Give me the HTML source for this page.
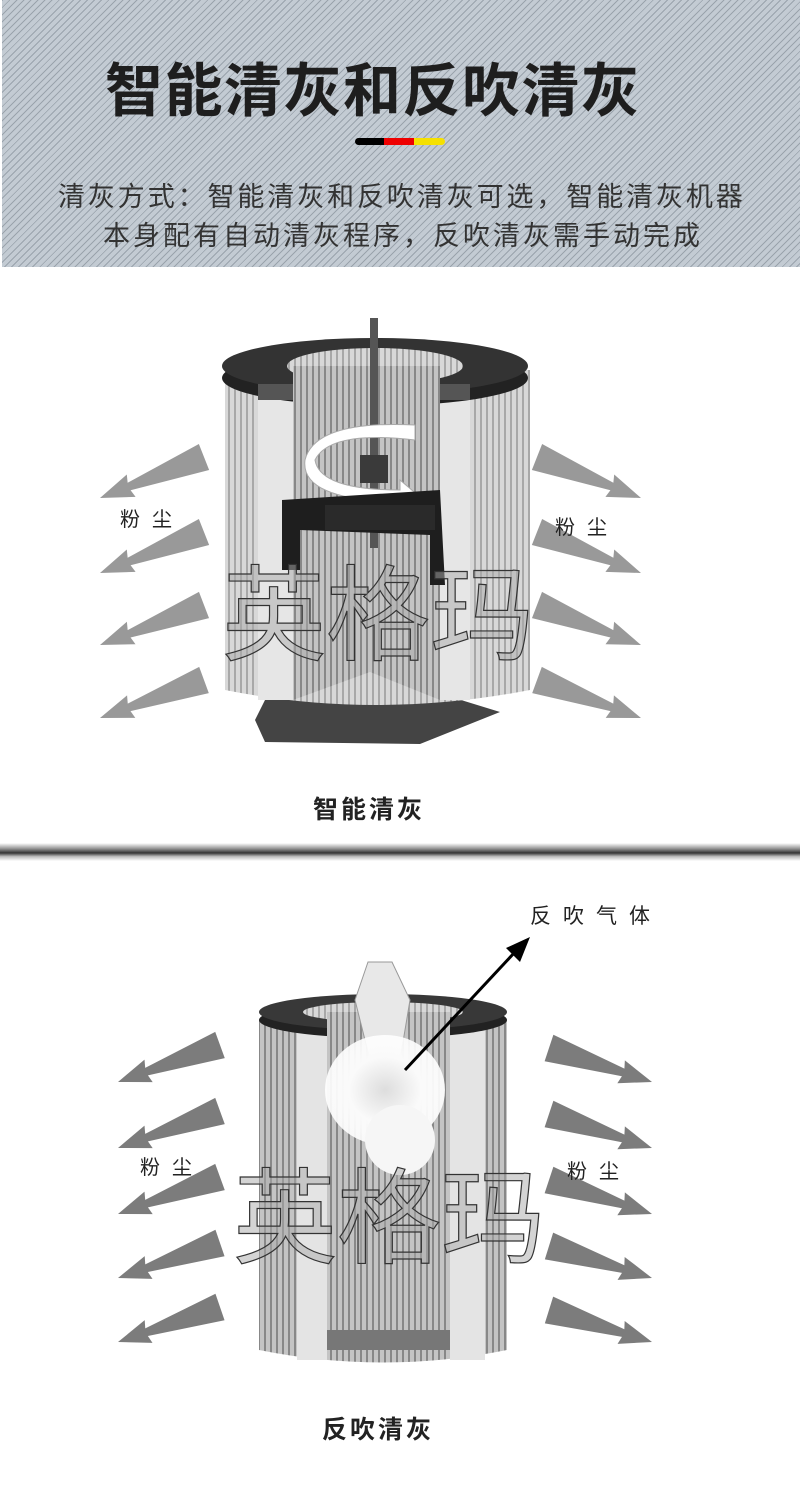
<!DOCTYPE html>
<html><head><meta charset="utf-8">
<style>
html,body{margin:0;padding:0;background:#fff;}
body{width:800px;height:1487px;position:relative;overflow:hidden;font-family:"Liberation Sans","Noto Sans CJK SC",sans-serif;}
.hdr{position:absolute;left:2px;top:0;width:798px;height:267px;background-color:#c3cbd3;
background-image:repeating-linear-gradient(135deg,rgba(120,130,140,.55) 0 1px,transparent 1px 5px);}
.t{position:absolute;white-space:nowrap;color:#222;}
</style></head><body>
<div class="hdr"></div>
<div class="t" style="left:105px;top:44px;font-size:58px;font-weight:bold;letter-spacing:1.5px;color:#1e1e1e">智能清灰和反吹清灰</div>
<div style="position:absolute;left:355px;top:138px;width:90px;height:7px;border-radius:4px;overflow:hidden;display:flex">
<div style="width:29px;background:#000"></div><div style="width:30px;background:#e00"></div><div style="width:31px;background:#f5e000"></div></div>
<div class="t" style="left:58px;top:175px;font-size:27px;letter-spacing:2.9px;color:#333">清灰方式：智能清灰和反吹清灰可选，智能清灰机器</div>
<div class="t" style="left:103px;top:214px;font-size:27px;letter-spacing:3px;color:#333">本身配有自动清灰程序，反吹清灰需手动完成</div>

<svg width="800" height="1487" style="position:absolute;left:0;top:0" id="s">
<defs>
<pattern id="pl" width="6" height="10" patternUnits="userSpaceOnUse"><rect width="6" height="10" fill="#d8d8d8"/><rect width="2" height="10" fill="#a8a8a8"/></pattern>
<pattern id="pl2" width="6" height="10" patternUnits="userSpaceOnUse"><rect width="6" height="10" fill="#c4c4c4"/><rect width="2" height="10" fill="#888"/></pattern>
<linearGradient id="dv" x1="0" y1="0" x2="0" y2="1"><stop offset="0" stop-color="#fff"/><stop offset=".3" stop-color="#999"/><stop offset=".55" stop-color="#333"/><stop offset=".75" stop-color="#bbb"/><stop offset="1" stop-color="#fff"/></linearGradient>
<radialGradient id="cl"><stop offset="0" stop-color="#ddd"/><stop offset=".6" stop-color="#fafafa"/><stop offset="1" stop-color="#fff" stop-opacity=".9"/></radialGradient>
</defs>
<polygon points="265,700 255,720 265,742 420,744 500,712 370,672 280,690" fill="#444"/>
<path d="M225,370 L225,690 Q375,720 530,690 L530,370 Z" fill="url(#pl)"/>
<rect x="258" y="385" width="35" height="315" fill="#e6e6e6"/>
<rect x="440" y="385" width="30" height="315" fill="#e6e6e6"/>
<path d="M293,385 L293,700 L370,672 L440,700 L440,385 Z" fill="url(#pl2)"/>
<ellipse cx="375" cy="378" rx="153" ry="28" fill="#222"/>
<ellipse cx="375" cy="366" rx="153" ry="28" fill="#333"/>
<ellipse cx="375" cy="366" rx="88" ry="18" fill="url(#pl)"/>
<rect x="293" y="366" width="147" height="40" fill="url(#pl2)"/>
<rect x="258" y="384" width="35" height="16" fill="#555"/>
<rect x="440" y="384" width="30" height="16" fill="#555"/>
<rect x="370" y="318" width="8" height="230" fill="#555"/>
<rect x="360" y="455" width="28" height="28" fill="#3a3a3a"/>
<path d="M415,440 Q330,430 315,460 Q320,490 400,490 L400,480 L420,497 L400,512 L400,502 Q300,500 305,460 Q315,420 415,425Z" fill="#fff" stroke="#aaa"/>
<path d="M282,500 L440,490 L445,585 L430,585 L430,535 L300,530 L300,570 L282,570Z" fill="#1e1e1e"/>
<rect x="325" y="505" width="110" height="25" fill="#2a2a2a"/>
<rect x="0" y="843" width="800" height="18" fill="url(#dv)"/>
<path d="M259,1020 L259,1350 Q383,1375 507,1350 L507,1020Z" fill="url(#pl2)"/>
<rect x="297" y="1030" width="30" height="330" fill="#e4e4e4"/>
<rect x="450" y="1030" width="35" height="330" fill="#e4e4e4"/>
<rect x="327" y="1330" width="123" height="20" fill="#777"/>
<ellipse cx="383" cy="1020" rx="124" ry="18" fill="#222"/>
<ellipse cx="383" cy="1012" rx="124" ry="18" fill="#383838"/>
<ellipse cx="383" cy="1012" rx="80" ry="10" fill="url(#pl)"/>
<rect x="327" y="1012" width="123" height="26" fill="url(#pl2)"/>
<path d="M355,1000 L368,962 L392,962 L410,1000 L400,1060 L370,1060Z" fill="#e8e8e8" stroke="#999"/>
<ellipse cx="385" cy="1090" rx="60" ry="55" fill="url(#cl)"/>
<ellipse cx="400" cy="1140" rx="35" ry="35" fill="#f6f6f6"/>
<line x1="405" y1="1070" x2="515" y2="952" stroke="#000" stroke-width="3"/>
<polygon points="530,937 506,948 520,962" fill="#000"/>
<g id="arr" fill="#999"></g>
<g id="arr2" fill="#7c7c7c"></g>
<text x="222" y="652" font-size="104" fill="#aaa" fill-opacity=".5" stroke="#333" stroke-width="1.2" font-family="Liberation Sans,Noto Sans CJK SC,sans-serif">英格玛</text>
<text x="233" y="1255" font-size="104" fill="#aaa" fill-opacity=".5" stroke="#333" stroke-width="1.2" font-family="Liberation Sans,Noto Sans CJK SC,sans-serif">英格玛</text>
</svg>
<script>
function arr(g,W,T){var dx=T[0]-W[0],dy=T[1]-W[1],L=Math.hypot(dx,dy),ux=dx/L,uy=dy/L,px=-uy,py=ux;
function p(t,w){return (W[0]+ux*L*t+px*w)+','+(W[1]+uy*L*t+py*w);}
var pts=[p(0,14),p(.72,4),p(.7,12),p(1,0),p(.7,-12),p(.72,-4),p(0,-14)];
var e=document.createElementNS('http://www.w3.org/2000/svg','polygon');e.setAttribute('points',pts.join(' '));document.getElementById(g).appendChild(e);}
[[457,498],[532,573],[605,645],[680,718]].forEach(function(a){arr('arr',[204,a[0]],[100,a[1]]);arr('arr',[537,a[0]],[641,a[1]]);});
[[1045,1082],[1111,1148],[1177,1214],[1243,1278],[1307,1342]].forEach(function(a){arr('arr2',[220,a[0]],[118,a[1]]);arr('arr2',[549,a[0]+3],[652,a[1]]);});
</script>
<div class="t" style="left:120px;top:503px;font-size:20px;letter-spacing:12px">粉尘</div>
<div class="t" style="left:555px;top:511px;font-size:20px;letter-spacing:12px">粉尘</div>
<div class="t" style="left:140px;top:1151px;font-size:20px;letter-spacing:12px">粉尘</div>
<div class="t" style="left:567px;top:1155px;font-size:20px;letter-spacing:12px">粉尘</div>
<div class="t" style="left:530px;top:900px;font-size:21px;letter-spacing:12px">反吹气体</div>
<div class="t" style="left:313px;top:790px;font-size:25px;font-weight:bold;letter-spacing:3px">智能清灰</div>
<div class="t" style="left:322px;top:1410px;font-size:25px;font-weight:bold;letter-spacing:3px">反吹清灰</div>
</body></html>
